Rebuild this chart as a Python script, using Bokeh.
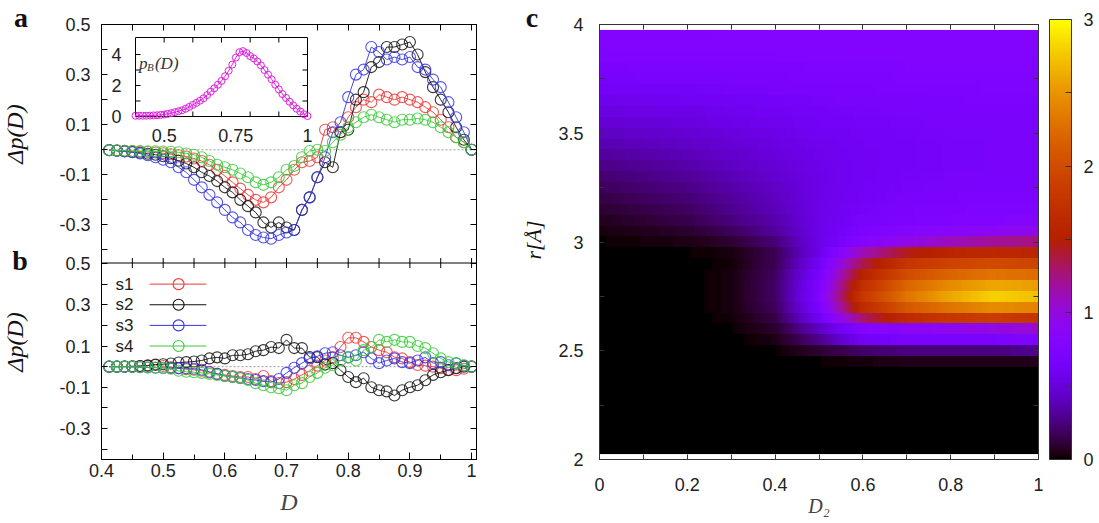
import numpy as np
from bokeh.plotting import figure
from bokeh.layouts import row
from bokeh.models import (Range1d, LinearAxis, FixedTicker, Span, Div,
                          ColorBar, LinearColorMapper, ColumnDataSource)
from bokeh.core.properties import value
from bokeh.embed import file_html
from bokeh.resources import INLINE

# ------------------------------------------------------------------ data
D = [0.4125, 0.425, 0.4375, 0.45, 0.4625, 0.475, 0.4875, 0.5, 0.5125, 0.525,
     0.5375, 0.55, 0.5625, 0.575, 0.5875, 0.6, 0.6125, 0.625, 0.6375, 0.65,
     0.6625, 0.675, 0.6875, 0.7, 0.7125, 0.725, 0.7375, 0.75, 0.7625, 0.775,
     0.7875, 0.8, 0.8125, 0.825, 0.8375, 0.85, 0.8625, 0.875, 0.8875, 0.9,
     0.9125, 0.925, 0.9375, 0.95, 0.9625, 0.975, 0.9875, 1.0]

series_names = ["s1", "s2", "s3", "s4"]
series_colors = ["#ee3a3a", "#111111", "#3535e6", "#38cc38"]

# panel a
dp_a_s1 = [-0.001, -0.002, -0.004, -0.005, -0.007, -0.009, -0.011, -0.014, -0.018, -0.022,
           -0.027, -0.035, -0.045, -0.060, -0.080, -0.105, -0.130, -0.155, -0.180, -0.200,
           -0.210, -0.190, -0.150, -0.120, -0.080, -0.050, -0.045, -0.030, 0.080, 0.090,
           0.070, 0.130, 0.170, 0.200, 0.190, 0.220, 0.210, 0.200, 0.210, 0.200,
           0.190, 0.170, 0.150, 0.120, 0.090, 0.050, 0.030, 0.000]
dp_a_s2 = [-0.002, -0.004, -0.006, -0.009, -0.012, -0.016, -0.020, -0.026, -0.034, -0.044,
           -0.055, -0.070, -0.090, -0.105, -0.125, -0.150, -0.170, -0.200, -0.225, -0.250,
           -0.290, -0.310, -0.290, -0.310, -0.320, -0.240, -0.190, -0.110, -0.050, -0.070,
           0.070, 0.080, 0.200, 0.230, 0.330, 0.350, 0.410, 0.410, 0.420, 0.430,
           0.380, 0.310, 0.250, 0.200, 0.150, 0.090, 0.040, 0.000]
dp_a_s3 = [-0.002, -0.004, -0.007, -0.010, -0.015, -0.022, -0.030, -0.040, -0.050, -0.070,
           -0.090, -0.120, -0.150, -0.180, -0.210, -0.240, -0.270, -0.290, -0.320, -0.340,
           -0.350, -0.355, -0.340, -0.330, -0.320, -0.240, -0.190, -0.110, -0.030, 0.070,
           0.110, 0.210, 0.300, 0.320, 0.410, 0.390, 0.360, 0.370, 0.360, 0.370,
           0.330, 0.320, 0.280, 0.250, 0.190, 0.130, 0.070, 0.000]
dp_a_s4 = [-0.002, -0.003, -0.004, -0.005, -0.005, -0.006, -0.006, -0.007, -0.008, -0.010,
           -0.015, -0.020, -0.030, -0.045, -0.060, -0.070, -0.080, -0.095, -0.110, -0.130,
           -0.140, -0.130, -0.110, -0.080, -0.065, -0.030, -0.005, 0.000, -0.005, 0.030,
           0.060, 0.090, 0.110, 0.130, 0.140, 0.130, 0.120, 0.110, 0.120, 0.120,
           0.125, 0.120, 0.110, 0.090, 0.070, 0.050, 0.030, 0.000]

# panel b
dp_b_s1 = [0.000, 0.000, 0.000, 0.000, 0.003, 0.006, 0.008, 0.003, -0.003, -0.008,
           -0.012, -0.015, -0.020, -0.028, -0.035, -0.040, -0.045, -0.050, -0.050, -0.060,
           -0.045, -0.070, -0.080, -0.075, -0.060, -0.040, -0.020, 0.005, 0.030, 0.046,
           0.095, 0.140, 0.140, 0.120, 0.095, 0.080, 0.070, 0.046, 0.040, 0.022,
           0.008, 0.005, 0.000, -0.007, -0.015, -0.017, -0.010, 0.000]
dp_b_s2 = [0.000, 0.000, 0.000, 0.002, 0.003, 0.005, 0.010, 0.012, 0.015, 0.020,
           0.022, 0.025, 0.030, 0.040, 0.045, 0.040, 0.055, 0.055, 0.060, 0.075,
           0.080, 0.095, 0.090, 0.130, 0.090, 0.090, 0.046, 0.046, 0.010, 0.017,
           -0.017, -0.050, -0.075, -0.056, -0.100, -0.114, -0.120, -0.140, -0.114, -0.100,
           -0.090, -0.066, -0.040, -0.027, -0.017, -0.007, 0.000, 0.000]
dp_b_s3 = [0.000, 0.000, 0.000, -0.002, -0.003, -0.004, -0.005, -0.006, -0.006, -0.007,
           -0.008, -0.010, -0.015, -0.025, -0.035, -0.045, -0.050, -0.055, -0.060, -0.065,
           -0.070, -0.075, -0.060, -0.030, -0.005, 0.017, 0.040, 0.050, 0.065, 0.070,
           0.055, 0.045, 0.055, 0.070, 0.040, 0.017, 0.030, 0.040, 0.022, 0.017,
           0.030, 0.045, 0.017, 0.022, 0.007, 0.015, 0.005, 0.000]
dp_b_s4 = [0.000, 0.000, 0.000, 0.000, -0.002, -0.003, -0.004, -0.006, -0.010, -0.020,
           -0.025, -0.027, -0.030, -0.035, -0.040, -0.045, -0.050, -0.056, -0.065, -0.080,
           -0.090, -0.100, -0.105, -0.114, -0.090, -0.080, -0.050, -0.030, -0.005, 0.007,
           0.030, 0.046, 0.030, 0.080, 0.095, 0.130, 0.120, 0.130, 0.120, 0.120,
           0.100, 0.090, 0.065, 0.040, 0.022, 0.017, 0.007, 0.000]

# inset p_B(D)
D_inset = [0.4, 0.4125, 0.425, 0.4375, 0.45, 0.4625, 0.475, 0.4875, 0.5, 0.5125,
           0.525, 0.5375, 0.55, 0.5625, 0.575, 0.5875, 0.6, 0.6125, 0.625, 0.6375,
           0.65, 0.6625, 0.675, 0.6875, 0.7, 0.7125, 0.725, 0.7375, 0.75, 0.7625,
           0.775, 0.7875, 0.8, 0.8125, 0.825, 0.8375, 0.85, 0.8625, 0.875, 0.8875,
           0.9, 0.9125, 0.925, 0.9375, 0.95, 0.9625, 0.975, 0.9875, 1.0]
pB = [0.05, 0.05, 0.05, 0.05, 0.06, 0.07, 0.08, 0.10, 0.13, 0.17,
      0.22, 0.28, 0.34, 0.40, 0.50, 0.62, 0.75, 0.88, 1.02, 1.18,
      1.38, 1.60, 1.82, 2.05, 2.30, 2.60, 2.95, 3.35, 3.80, 4.15,
      4.22, 4.10, 3.90, 3.75, 3.55, 3.30, 3.00, 2.70, 2.40, 2.05,
      1.75, 1.45, 1.20, 0.95, 0.72, 0.50, 0.32, 0.15, 0.03]
inset_x_ticks = [0.5, 0.6, 0.7, 0.8, 0.9]
inset_x_labels = [0.5, 0.75, 1.0]
inset_x_label_text = ["0.5", "0.75", "1"]
inset_y_ticks = [1, 2, 3, 4]
inset_y_labels = [0, 2, 4]
inset_y_label_text = ["0", "2", "4"]

# panel c heat map: rows of r (stripe centres), values at D2 anchor columns
D2_anchor = [0.0, 0.2, 0.3, 0.4, 0.5, 0.6, 0.7, 0.8, 0.9, 1.0]
r_rows = [2.05, 2.10, 2.15, 2.20, 2.25, 2.30, 2.35, 2.40, 2.45, 2.50,
          2.55, 2.60, 2.65, 2.70, 2.75, 2.80, 2.85, 2.90, 2.95, 3.00,
          3.05, 3.10, 3.15, 3.20, 3.25, 3.30, 3.35, 3.40, 3.45, 3.50,
          3.55, 3.60, 3.65, 3.70, 3.75, 3.80, 3.85, 3.90, 3.95]
heat = [
    [0, 0, 0, 0, 0, 0, 0, 0, 0, 0],
    [0, 0, 0, 0, 0, 0, 0, 0, 0, 0],
    [0, 0, 0, 0, 0, 0, 0, 0, 0, 0],
    [0, 0, 0, 0, 0, 0, 0, 0, 0, 0],
    [0, 0, 0, 0, 0, 0, 0, 0, 0, 0],
    [0, 0, 0, 0, 0, 0, 0, 0, 0, 0],
    [0, 0, 0, 0, 0, 0, 0, 0, 0, 0],
    [0, 0, 0, 0, 0, 0, 0, 0, 0, 0],
    [0, 0, 0, 0, 0.01, 0.03, 0.05, 0.05, 0.05, 0.06],
    [0, 0, 0, 0.01, 0.10, 0.20, 0.25, 0.25, 0.25, 0.30],
    [0, 0, 0, 0.04, 0.28, 0.62, 0.68, 0.68, 0.70, 0.75],
    [0, 0, 0.01, 0.09, 0.42, 0.80, 0.88, 0.92, 0.98, 1.05],
    [0, 0, 0.02, 0.14, 0.60, 1.30, 1.65, 1.80, 1.85, 1.75],
    [0, 0, 0.03, 0.18, 0.70, 1.65, 2.10, 2.30, 2.45, 2.40],
    [0, 0, 0.03, 0.20, 0.74, 1.80, 2.30, 2.60, 2.80, 2.72],
    [0, 0, 0.03, 0.20, 0.72, 1.70, 2.20, 2.45, 2.60, 2.55],
    [0, 0, 0.03, 0.19, 0.68, 1.55, 2.00, 2.20, 2.30, 2.25],
    [0, 0, 0.02, 0.17, 0.62, 1.35, 1.78, 1.92, 1.98, 1.92],
    [0, 0.01, 0.03, 0.17, 0.55, 1.12, 1.45, 1.58, 1.62, 1.58],
    [0.01, 0.04, 0.10, 0.24, 0.55, 0.80, 0.95, 1.10, 1.20, 1.25],
    [0.03, 0.09, 0.18, 0.32, 0.55, 0.72, 0.80, 0.85, 0.90, 0.95],
    [0.06, 0.15, 0.25, 0.36, 0.55, 0.68, 0.72, 0.75, 0.78, 0.80],
    [0.10, 0.19, 0.29, 0.39, 0.55, 0.65, 0.70, 0.72, 0.74, 0.75],
    [0.14, 0.23, 0.32, 0.41, 0.55, 0.63, 0.68, 0.70, 0.72, 0.72],
    [0.18, 0.27, 0.35, 0.43, 0.55, 0.62, 0.66, 0.68, 0.70, 0.70],
    [0.22, 0.31, 0.38, 0.46, 0.55, 0.61, 0.65, 0.67, 0.68, 0.68],
    [0.27, 0.35, 0.42, 0.48, 0.56, 0.61, 0.64, 0.66, 0.67, 0.67],
    [0.32, 0.39, 0.45, 0.50, 0.57, 0.61, 0.64, 0.66, 0.67, 0.67],
    [0.37, 0.43, 0.48, 0.52, 0.58, 0.62, 0.64, 0.66, 0.67, 0.67],
    [0.42, 0.47, 0.51, 0.55, 0.60, 0.63, 0.65, 0.67, 0.68, 0.68],
    [0.47, 0.51, 0.55, 0.58, 0.62, 0.65, 0.66, 0.68, 0.69, 0.69],
    [0.52, 0.55, 0.58, 0.61, 0.64, 0.66, 0.68, 0.69, 0.70, 0.70],
    [0.57, 0.60, 0.62, 0.64, 0.66, 0.68, 0.69, 0.70, 0.71, 0.71],
    [0.62, 0.64, 0.66, 0.67, 0.69, 0.70, 0.71, 0.72, 0.73, 0.73],
    [0.66, 0.68, 0.69, 0.70, 0.71, 0.72, 0.73, 0.74, 0.74, 0.74],
    [0.70, 0.71, 0.72, 0.72, 0.73, 0.74, 0.75, 0.75, 0.76, 0.76],
    [0.73, 0.74, 0.74, 0.75, 0.75, 0.76, 0.76, 0.77, 0.77, 0.77],
    [0.76, 0.76, 0.77, 0.77, 0.77, 0.78, 0.78, 0.78, 0.78, 0.78],
    [0.78, 0.78, 0.79, 0.79, 0.79, 0.80, 0.80, 0.80, 0.80, 0.80],
]
cbar_ticks = [0, 1, 2, 3]
cbar_minor = [0.5, 1.5, 2.5]

# tick values and their labels
y_major = [-0.3, -0.1, 0.1, 0.3, 0.5]
y_minor = [-0.4, -0.2, 0.0, 0.2, 0.4]
x_major = [0.4, 0.5, 0.6, 0.7, 0.8, 0.9, 1.0]
x_minor = [0.45, 0.55, 0.65, 0.75, 0.85, 0.95]
cx_major = [0, 0.2, 0.4, 0.6, 0.8, 1.0]
cx_minor = [0.1, 0.3, 0.5, 0.7, 0.9]
cy_major = [2, 2.5, 3, 3.5, 4]
cy_minor = [2.25, 2.75, 3.25, 3.75]

# ------------------------------------------------------------------ styles / layout (page px)
SANS = "Liberation Sans"
SERIF = "Liberation Serif"
TICK_FS = "18px"
TOTAL_H = 522
XR = (0.4, 1.008)
YR = (-0.45, 0.5)
S1_W, AB_W, S2_W, C_W = 45, 461, 44, 548
AB_T, AB_B = 24, 63
AB_L, AB_R = 56, 30
C_L, C_R, C_T, C_B = 49, 60, 21, 61
AB_TOP, A_BOT, B_TOP, AB_BOT = AB_T, 262, 263, TOTAL_H - AB_B
FRAME_L = S1_W + AB_L
FRAME_W = AB_W - AB_L - AB_R
PXB = (AB_BOT - B_TOP) / (YR[1] - YR[0])     # px per unit, panel b
PXA = (A_BOT - AB_TOP) / (YR[1] - YR[0])     # px per unit, panel a


def page_y(py):
    """page pixel row -> main (panel b) data coordinate"""
    return YR[0] + (AB_BOT - py) / PXB


def page_x(px):
    return XR[0] + (px - FRAME_L) / FRAME_W * (XR[1] - XR[0])


def a_to_main(v):
    return round(page_y(AB_TOP + (YR[1] - v) * PXA), 9)


def fmt(v):
    return "%g" % v


def mk_axis(ticks, minor, color="black", overrides=None, standoff=8,
            major_len=7, minor_len=5):
    ax = LinearAxis(ticker=FixedTicker(ticks=ticks, minor_ticks=minor))
    ax.major_tick_in = major_len
    ax.major_tick_out = 0
    ax.minor_tick_in = minor_len
    ax.minor_tick_out = 0
    ax.axis_line_color = color
    ax.major_tick_line_color = color
    ax.minor_tick_line_color = color
    ax.major_label_text_font = SANS
    ax.major_label_text_font_size = TICK_FS
    ax.major_label_text_color = "#222222"
    ax.major_label_standoff = standoff
    if overrides:
        ax.major_label_overrides = overrides
    return ax


def mirror_axis(positions, color="black", tick_len=6):
    # tick marks only (no labels) on the opposite side of the frame
    ax = LinearAxis(ticker=FixedTicker(ticks=[], minor_ticks=positions))
    ax.major_tick_in = 0
    ax.major_tick_out = 0
    ax.minor_tick_in = tick_len
    ax.minor_tick_out = 0
    ax.axis_line_color = color
    ax.minor_tick_line_color = color
    ax.major_label_standoff = 0
    return ax


def base_fig(w, h, xr, yr, l, r, t, b):
    p = figure(width=w, height=h, x_range=Range1d(*xr), y_range=Range1d(*yr),
               output_backend="svg", toolbar_location=None,
               x_axis_location=None, y_axis_location=None,
               min_border_left=l, min_border_right=r,
               min_border_top=t, min_border_bottom=b)
    p.xgrid.visible = False
    p.ygrid.visible = False
    p.outline_line_color = "black"
    p.background_fill_color = "white"
    p.border_fill_color = "white"
    return p


def strip_div(width, items):
    spans = []
    for cx, cy, txt, size, style, weight, rot in items:
        tr = "translate(-50%,-50%)" + (" rotate(-90deg)" if rot else "")
        spans.append(
            f'<span style="position:absolute;left:{cx}px;top:{cy}px;transform:{tr};'
            f"font-family:'{SERIF}';font-size:{size};font-style:{style};"
            f'font-weight:{weight};line-height:1;white-space:nowrap;color:#111111">'
            f'{txt}</span>')
    html = (f'<div style="position:relative;width:{width}px;height:{TOTAL_H}px;'
            f'overflow:visible">' + "".join(spans) + "</div>")
    return Div(text=html, width=width, height=TOTAL_H, margin=0)


def draw_series(target, ys_list):
    for ys, col in zip(ys_list, series_colors):
        src = ColumnDataSource(dict(x=D, y=ys))
        target.line("x", "y", source=src, line_color=col, line_width=1, line_alpha=0.9)
        target.scatter("x", "y", source=src, marker="circle", size=11, fill_color=None,
                       line_color=col, line_width=1.1, line_alpha=0.85)


# ---------------- strip 1: letters a, b and the y titles
s1 = strip_div(S1_W, [
    (21, 18, "a", "28px", "normal", "bold", False),
    (20, 261, "b", "28px", "normal", "bold", False),
    (15, 134, "Δp(D)", "24px", "italic", "normal", True),
    (15, 342, "Δp(D)", "24px", "italic", "normal", True),
])

# ---------------- panels a and b (one frame; panel b is the main coordinate system)
pab = base_fig(AB_W, TOTAL_H, XR, (YR[0], page_y(AB_TOP)), AB_L, AB_R, AB_T, AB_B)

left_major = [a_to_main(v) for v in y_major] + y_major
left_minor = [a_to_main(v) for v in y_minor] + y_minor
left_over = {a_to_main(v): fmt(v) for v in y_major}
left_over.update({v: fmt(v) for v in y_major})
pab.add_layout(mk_axis(left_major, left_minor, overrides=left_over, standoff=11,
                       major_len=6, minor_len=6), "left")
pab.add_layout(mirror_axis(sorted(left_major + left_minor)), "right")
pab.add_layout(mirror_axis(sorted(x_major + x_minor)), "above")
bx = mk_axis(x_major, x_minor, overrides={1: "1"}, standoff=4)
bx.axis_label = "D"
bx.axis_label_text_font = SERIF
bx.axis_label_text_font_style = "italic"
bx.axis_label_text_font_size = "24px"
bx.axis_label_standoff = 9
pab.add_layout(bx, "below")

# border between panel a and panel b, with ticks on both sides
mid = page_y((A_BOT + B_TOP) / 2)
pab.add_layout(Span(location=mid, dimension="width", line_color="black", line_width=1))
xt = sorted(x_major + x_minor)
tick_half = 5 / PXB
pab.segment(x0=xt, y0=[mid - tick_half] * len(xt), x1=xt, y1=[mid + tick_half] * len(xt),
            line_color="black", line_width=1)

# dotted zero lines
pab.add_layout(Span(location=a_to_main(0.0), dimension="width", line_color="#999999",
                    line_dash="2 2", line_width=1, level="underlay"))
pab.add_layout(Span(location=0.0, dimension="width", line_color="#999999",
                    line_dash="2 2", line_width=1, level="underlay"))

# panel a data in its own coordinates
sub_a = pab.subplot(x_source=Range1d(*XR), y_source=Range1d(*YR),
                    x_target=Range1d(*XR),
                    y_target=Range1d(a_to_main(YR[0]), a_to_main(YR[1])))
draw_series(sub_a, [dp_a_s1, dp_a_s2, dp_a_s3, dp_a_s4])

# panel b data
draw_series(pab, [dp_b_s1, dp_b_s2, dp_b_s3, dp_b_s4])

# legend of panel b (label first, then sample)
LEG_Y = [0.4, 0.3, 0.2, 0.1]
LEG_TX, LEG_L0, LEG_L1, LEG_M = 0.452, 0.478, 0.57, 0.525
leg = ColumnDataSource(dict(y=LEG_Y, name=series_names, col=series_colors,
                            tx=[LEG_TX] * 4, x0=[LEG_L0] * 4, x1=[LEG_L1] * 4,
                            xm=[LEG_M] * 4))
pab.text(x="tx", y="y", text="name", source=leg, text_align="right",
         text_baseline="middle", text_font=value(SANS), text_font_size="17px",
         text_color="#222222")
pab.segment(x0="x0", y0="y", x1="x1", y1="y", line_color="col", source=leg, line_width=1)
pab.scatter(x="xm", y="y", source=leg, marker="circle", size=11, fill_color=None,
            line_color="col", line_width=1.1)

# inset p_B(D) inside panel a; placement in page pixels
INS_L, INS_R, INS_T, INS_B = 135, 307, 37, 116
INSET_X = (0.4, 1.0)
INSET_Y = (0.0, 5.1)
sub = pab.subplot(x_source=Range1d(*INSET_X), y_source=Range1d(*INSET_Y),
                  x_target=Range1d(page_x(INS_L), page_x(INS_R)),
                  y_target=Range1d(page_y(INS_B), page_y(INS_T)))
sub.quad(left=[INSET_X[0]], right=[INSET_X[1]], bottom=[INSET_Y[0]], top=[INSET_Y[1]],
         fill_color="white", line_color="black", line_width=1)
ux = (INSET_X[1] - INSET_X[0]) / (INS_R - INS_L)   # data units per pixel
uy = (INSET_Y[1] - INSET_Y[0]) / (INS_B - INS_T)
TL = 5
n = len(inset_x_ticks)
sub.segment(x0=inset_x_ticks, y0=[INSET_Y[0]] * n, x1=inset_x_ticks,
            y1=[INSET_Y[0] + TL * uy] * n, line_color="black")
sub.segment(x0=inset_x_ticks, y0=[INSET_Y[1]] * n, x1=inset_x_ticks,
            y1=[INSET_Y[1] - TL * uy] * n, line_color="black")
m = len(inset_y_ticks)
sub.segment(x0=[INSET_X[0]] * m, y0=inset_y_ticks, x1=[INSET_X[0] + TL * ux] * m,
            y1=inset_y_ticks, line_color="black")
sub.segment(x0=[INSET_X[1]] * m, y0=inset_y_ticks, x1=[INSET_X[1] - TL * ux] * m,
            y1=inset_y_ticks, line_color="black")
sub.line(D_inset, pB, line_color="#e020e0", line_width=1)
sub.scatter(D_inset, pB, marker="circle", size=7, fill_color=None,
            line_color="#dd22dd", line_width=1)
sub.text(x=inset_x_labels, y=[INSET_Y[0]] * 3, text=inset_x_label_text,
         text_align="center", text_baseline="top", y_offset=12,
         text_font=value(SANS), text_font_size=TICK_FS, text_color="#222222")
sub.text(x=[INSET_X[0]] * 3, y=inset_y_labels, text=inset_y_label_text,
         text_align="right", text_baseline="middle", x_offset=-14,
         text_font=value(SANS), text_font_size=TICK_FS, text_color="#222222")
PB_X, PB_Y = 0.412, 3.45
sub.text(x=[PB_X], y=[PB_Y], text=["p"], text_align="left", text_baseline="middle",
         text_font=value(SERIF), text_font_style="italic", text_font_size="17px",
         text_color="#333333")
sub.text(x=[PB_X], y=[PB_Y], text=["B"], text_align="left", text_baseline="middle",
         x_offset=8, y_offset=4, text_font=value(SERIF), text_font_style="italic",
         text_font_size="11px", text_color="#333333")
sub.text(x=[PB_X], y=[PB_Y], text=["(D)"], text_align="left", text_baseline="middle",
         x_offset=16, text_font=value(SERIF), text_font_style="italic",
         text_font_size="17px", text_color="#333333")

# ---------------- strip 2: letter c and the y title of panel c
S2_X0 = S1_W + AB_W
s2 = strip_div(S2_W, [
    (532 - S2_X0, 18, "c", "28px", "normal", "bold", False),
    (534 - S2_X0, 240, "r[Å]", "22px", "italic", "normal", True),
])

# ---------------- panel c
palette = []
for t in np.linspace(0, 1, 256):
    rr, gg, bb = np.sqrt(t), t ** 3, max(np.sin(2 * np.pi * t), 0.0)
    palette.append("#%02x%02x%02x" % (int(round(rr * 255)), int(round(gg * 255)),
                                       int(round(bb * 255))))
mapper = LinearColorMapper(palette=palette, low=cbar_ticks[0], high=cbar_ticks[-1])

pc = base_fig(C_W, TOTAL_H, (0, 1), (2, 4), C_L, C_R, C_T, C_B)
pc.outline_line_color = "#333333"
# resample each r-stripe along D2 for a smooth horizontal gradient (display only)
xf = np.linspace(D2_anchor[0], D2_anchor[-1], 221)
img = np.array([np.interp(xf, D2_anchor, rv) for rv in heat])
dr = r_rows[1] - r_rows[0]
pc.image(image=[img], x=D2_anchor[0], y=r_rows[0] - dr / 2,
         dw=D2_anchor[-1] - D2_anchor[0], dh=r_rows[-1] - r_rows[0] + dr,
         color_mapper=mapper)

pc.add_layout(mk_axis(cy_major, cy_minor, color="#333333",
                      overrides={2: "2", 3: "3", 4: "4"}, standoff=16,
                      major_len=5, minor_len=5), "left")
pc.add_layout(mirror_axis(sorted(cy_major + cy_minor), color="#333333", tick_len=5), "right")
pc.add_layout(mirror_axis(sorted(cx_major + cx_minor), color="#333333", tick_len=5), "above")
cbx = mk_axis(cx_major, cx_minor, color="#333333", overrides={0: "0", 1: "1"},
              standoff=18, major_len=5, minor_len=5)
cbx.axis_label = "D₂"
cbx.axis_label_text_font = SERIF
cbx.axis_label_text_font_style = "italic"
cbx.axis_label_text_font_size = "20px"
cbx.axis_label_standoff = 1
pc.add_layout(cbx, "below")

cb = ColorBar(color_mapper=mapper, width=22, height=TOTAL_H - C_T - C_B,
              location=(11, 0), padding=0, margin=0, label_standoff=12,
              ticker=FixedTicker(ticks=cbar_ticks, minor_ticks=cbar_minor),
              major_tick_in=6, major_tick_out=0, minor_tick_in=6, minor_tick_out=0,
              major_tick_line_color="#333333", minor_tick_line_color="#333333",
              bar_line_color="#333333", border_line_color=None,
              background_fill_alpha=0,
              major_label_text_font=SANS, major_label_text_font_size=TICK_FS,
              major_label_text_color="#222222")
pc.add_layout(cb, "right")

layout = row(s1, pab, s2, pc, spacing=0)
open("out.html", "w").write(file_html(layout, INLINE))
